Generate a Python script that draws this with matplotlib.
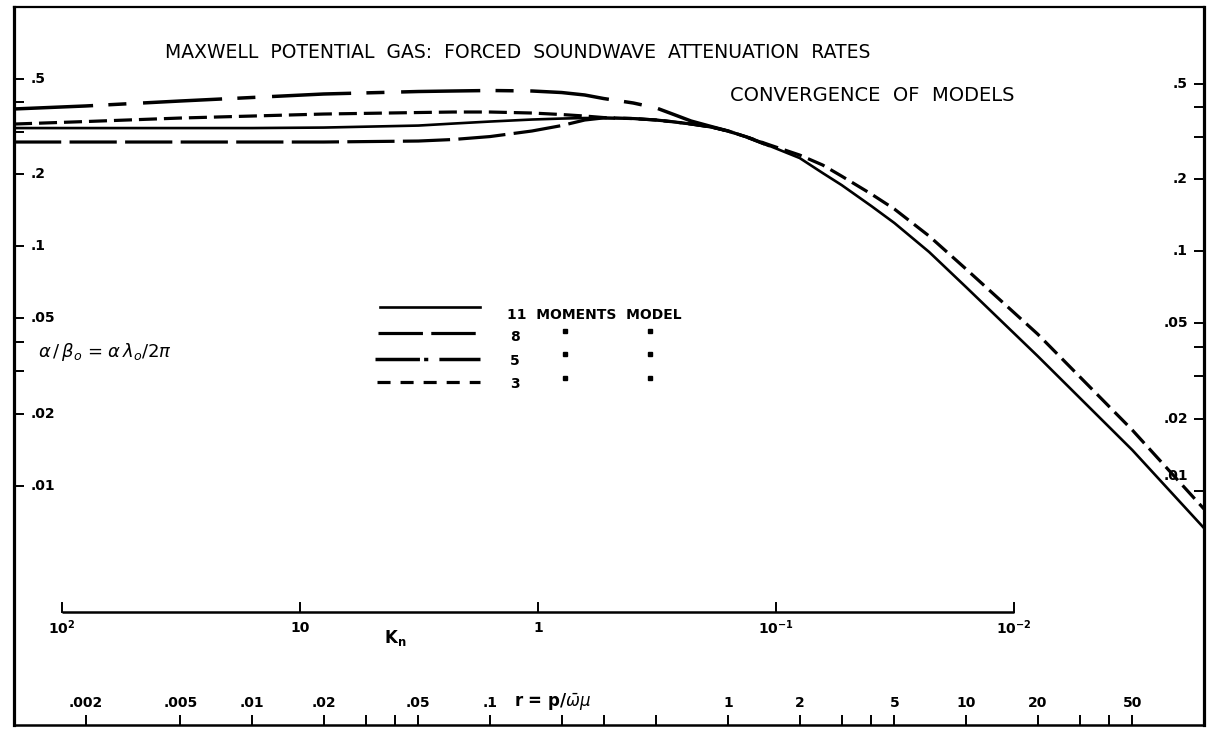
import matplotlib
matplotlib.use('Agg')
import matplotlib.pyplot as plt
from matplotlib.transforms import blended_transform_factory
from matplotlib.ticker import NullLocator, FixedLocator

plt.rcParams['font.family'] = ['DejaVu Sans']
plt.rcParams['lines.scale_dashes'] = False
plt.rcParams['mathtext.fontset'] = 'dejavusans'

# ---------------- data ----------------
# r = p / (omega_bar * mu)
r_all = [0.001, 0.002, 0.005, 0.01, 0.02, 0.05, 0.07, 0.1, 0.15, 0.2, 0.25, 0.3,
         0.4, 0.5, 0.6, 0.7, 0.85, 1.0, 1.2, 1.5, 2.0, 2.5, 3.0, 4.0, 5.0, 7.0,
         10.0, 20.0, 50.0, 100.0]
r_low = [0.001, 0.002, 0.005, 0.01, 0.02, 0.05, 0.07, 0.1, 0.15, 0.2, 0.25, 0.3,
         0.4, 0.5, 0.6, 0.7, 0.85, 1.0, 1.2, 1.5]

moments_11 = [0.3120, 0.3120, 0.3120, 0.3120, 0.3135, 0.3196, 0.3258, 0.3322,
              0.3387, 0.3419, 0.3436, 0.3436, 0.3419, 0.3371, 0.3306, 0.3243,
              0.3151, 0.3033, 0.2862, 0.2625, 0.2339, 0.2024, 0.1804, 0.1474,
              0.1252, 0.0947, 0.0676, 0.0348, 0.01408, 0.00665]
moments_3 = [0.3243, 0.3322, 0.3436, 0.3503, 0.3571, 0.3623, 0.3641, 0.3641,
             0.3606, 0.3554, 0.3503, 0.3452, 0.3419, 0.3371, 0.3306, 0.3243,
             0.3151, 0.3033, 0.2862, 0.2650, 0.2407, 0.2186, 0.1966, 0.1654,
             0.1432, 0.1104, 0.0804, 0.0430, 0.01707, 0.00799]
moments_5 = [0.3749, 0.3859, 0.4048, 0.4187, 0.4330, 0.4435, 0.4457, 0.4478,
             0.4457, 0.4392, 0.4289, 0.4146, 0.3971, 0.3785, 0.3537, 0.3338,
             0.3167, 0.3033, 0.2862, 0.2625]
moments_8 = [0.2728, 0.2728, 0.2728, 0.2728, 0.2728, 0.2754, 0.2795, 0.2875,
             0.3033, 0.3196, 0.3371, 0.3440, 0.3419, 0.3371, 0.3306, 0.3243,
             0.3151, 0.3033, 0.2862, 0.2625]

y_ticks = [0.01, 0.02, 0.03, 0.04, 0.05, 0.1, 0.2, 0.3, 0.4, 0.5]
y_label_vals = [0.5, 0.2, 0.1, 0.05, 0.02, 0.01]
y_label_txt = ['.5', '.2', '.1', '.05', '.02', '.01']

r_ticks = [0.002, 0.005, 0.01, 0.02, 0.03, 0.04, 0.05, 0.1, 0.2, 0.3, 0.5,
           1, 2, 3, 4, 5, 10, 20, 30, 40, 50]
r_tick_txt = ['.002', '.005', '.01', '.02', '', '', '.05', '.1', '', '', '',
              '1', '2', '', '', '5', '10', '20', '', '', '50']

kn_ticks = [100, 10, 1, 0.1, 0.01]
kn_tick_txt = [r'10$^{\mathbf{2}}$', '10', '1', r'10$^{\mathbf{-1}}$', r'10$^{\mathbf{-2}}$']
KN_TO_R = 0.159   # r corresponding to Kn = 1  (r = KN_TO_R / Kn)

legend_nums = ['11', '8', '5', '3']

# ---------------- figure ----------------
fig = plt.figure(figsize=(12.1, 7.29), dpi=100)
ax = fig.add_axes([14 / 1210, 4 / 729, 1190 / 1210, 718 / 729])
ax.set_xscale('log')
ax.set_yscale('log')
ax.set_xlim(0.001, 100)
ax.set_ylim(0.001, 1.0)

ax.plot(r_all, moments_11, color='black', lw=1.9)
ax.plot(r_low, moments_8, color='black', lw=2.3, dashes=(34, 6))
ax.plot(r_low, moments_5, color='black', lw=2.5, dashes=(57, 11, 13, 12))
ax.plot(r_all, moments_3, color='black', lw=2.3, dashes=(13, 5))

# left ticks
ax.yaxis.set_major_locator(FixedLocator(y_ticks))
ax.yaxis.set_minor_locator(NullLocator())
ax.tick_params(axis='y', which='major', direction='in', length=7.5, width=1.4,
               left=True, right=False, labelleft=False, labelright=False)
# bottom ticks
ax.xaxis.set_major_locator(FixedLocator(r_ticks))
ax.xaxis.set_minor_locator(NullLocator())
ax.tick_params(axis='x', which='major', direction='in', length=7.5, width=1.4,
               bottom=True, top=False, labelbottom=False)

for s, lw in (('left', 2.3), ('top', 1.6), ('bottom', 1.8)):
    ax.spines[s].set_linewidth(lw)
ax.spines['right'].set_visible(False)

# right axis (scan is slightly skewed: right scale sits a few px lower)
ax2 = ax.twinx()
ax2.set_yscale('log')
off = 10 ** (5 / 239.3)
ax2.set_ylim(0.001 * off, 1.0 * off)
ax2.yaxis.set_major_locator(FixedLocator(y_ticks))
ax2.yaxis.set_minor_locator(NullLocator())
ax2.tick_params(axis='y', which='major', direction='in', length=7.5, width=1.4,
                right=True, left=False, labelright=False, labelleft=False)
for s in ('left', 'top', 'bottom'):
    ax2.spines[s].set_visible(False)
ax2.spines['right'].set_linewidth(2.3)

lab_kw = dict(fontsize=10, fontweight='bold', color='black')
tl = blended_transform_factory(ax.transAxes, ax.transData)
tr = blended_transform_factory(ax2.transAxes, ax2.transData)
for v, t in zip(y_label_vals, y_label_txt):
    ax.text(0.0143, v, t, transform=tl, ha='left', va='center', **lab_kw)
    yy = v * (1.15 if t == '.01' else 1.0)
    ax2.text(0.9866, yy, t, transform=tr, ha='right', va='center', **lab_kw)

# bottom r labels
tb = blended_transform_factory(ax.transData, ax.transAxes)
for v, t in zip(r_ticks, r_tick_txt):
    if t:
        ax.text(v, 0.031, t, transform=tb, ha='center', va='center', **lab_kw)
ax.text(0.453, 0.031, r'r = p/$\bar{\omega}\mu$', transform=ax.transAxes,
        ha='center', va='center', fontsize=12, fontweight='bold')

# Kn axis (inner scale)
kn_r = [KN_TO_R / k for k in kn_ticks]
ax.plot([kn_r[0], kn_r[-1]], [0.1574, 0.1574], transform=tb, color='black',
        lw=1.8, clip_on=False, solid_capstyle='butt')
for xr, t in zip(kn_r, kn_tick_txt):
    ax.plot([xr, xr], [0.1574, 0.1699], transform=tb, color='black', lw=1.4,
            clip_on=False)
    ax.text(xr, 0.1351, t, transform=tb, ha='center', va='center', **lab_kw)
ax.text(0.3202, 0.1212, r'K$_{\mathbf{n}}$', transform=ax.transAxes, ha='center',
        va='center', fontsize=12, fontweight='bold')

# titles
ax.text(0.4231, 0.9373, 'MAXWELL  POTENTIAL  GAS:  FORCED  SOUNDWAVE  ATTENUATION  RATES',
        transform=ax.transAxes, ha='center', va='center', fontsize=13.5)
ax.text(0.721, 0.8774, 'CONVERGENCE  OF  MODELS', transform=ax.transAxes,
        ha='center', va='center', fontsize=14)

# y label
ax.text(0.0202, 0.5195, r'$\alpha\,/\,\beta_{o}$ = $\alpha\,\lambda_{o}/2\pi$',
        transform=ax.transAxes, ha='left', va='center', fontsize=13)

# legend
ta = ax.transAxes
ax.plot([0.3076, 0.3916], [0.5822, 0.5822], transform=ta, color='black', lw=1.9)
ax.plot([0.3059, 0.3916], [0.5460, 0.5460], transform=ta, color='black', lw=2.3,
        dashes=(32, 6))
ax.plot([0.3034, 0.3916], [0.5097, 0.5097], transform=ta, color='black', lw=2.5,
        dashes=(32, 3, 3, 8))
ax.plot([0.3050, 0.3916], [0.4777, 0.4777], transform=ta, color='black', lw=2.3,
        dashes=(9.4, 7.2))
ax.text(0.4143, 0.571, legend_nums[0] + '  MOMENTS  MODEL', transform=ta,
        ha='left', va='center', fontsize=10, fontweight='bold')
for n, yy in zip(legend_nums[1:], (0.5404, 0.507, 0.4749)):
    ax.text(0.4168, yy, n, transform=ta, ha='left', va='center', fontsize=10,
            fontweight='bold')
for yy in (0.5487, 0.5167, 0.4833):
    for xx in (0.463, 0.5345):
        ax.plot([xx], [yy], transform=ta, marker='s', ms=3.2, color='black')

fig.savefig('out.png', dpi=100)
